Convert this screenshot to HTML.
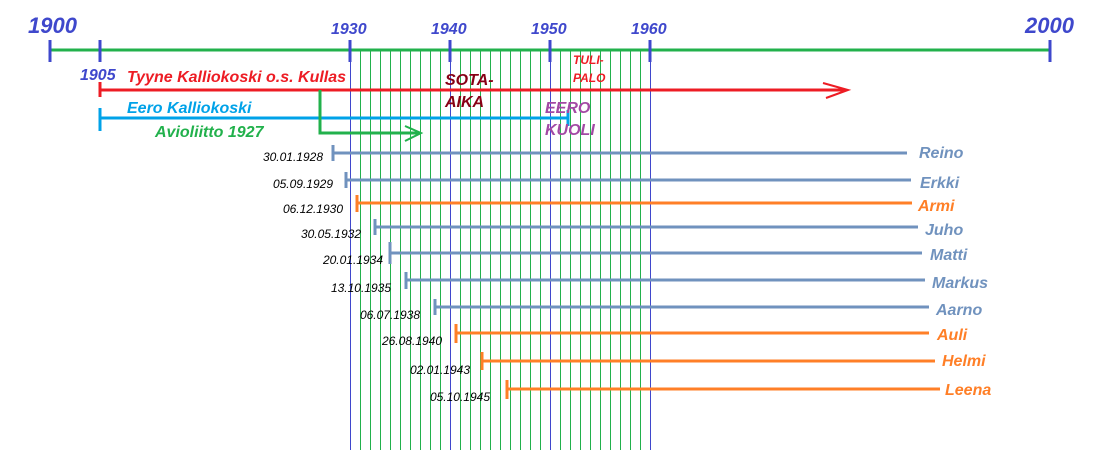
<!DOCTYPE html>
<html><head><meta charset="utf-8"><style>
body{margin:0;background:#fff;}
svg text{font-family:"Liberation Sans",sans-serif;font-style:italic;font-weight:bold;}
svg text.d{font-weight:normal;}
</style></head><body>
<svg width="1100" height="450" xmlns="http://www.w3.org/2000/svg">
<g stroke="#22b14c" stroke-width="1" transform="translate(0.5,0)">
<line x1="360" y1="50" x2="360" y2="450"/><line x1="370" y1="50" x2="370" y2="450"/><line x1="380" y1="50" x2="380" y2="450"/><line x1="390" y1="50" x2="390" y2="450"/><line x1="400" y1="50" x2="400" y2="450"/><line x1="410" y1="50" x2="410" y2="450"/><line x1="420" y1="50" x2="420" y2="450"/><line x1="430" y1="50" x2="430" y2="450"/><line x1="440" y1="50" x2="440" y2="450"/>
<line x1="460" y1="50" x2="460" y2="450"/><line x1="470" y1="50" x2="470" y2="450"/><line x1="480" y1="50" x2="480" y2="450"/><line x1="490" y1="50" x2="490" y2="450"/><line x1="500" y1="50" x2="500" y2="450"/><line x1="510" y1="50" x2="510" y2="450"/><line x1="520" y1="50" x2="520" y2="450"/><line x1="530" y1="50" x2="530" y2="450"/><line x1="540" y1="50" x2="540" y2="450"/>
<line x1="560" y1="50" x2="560" y2="450"/><line x1="570" y1="50" x2="570" y2="450"/><line x1="580" y1="50" x2="580" y2="450"/><line x1="590" y1="50" x2="590" y2="450"/><line x1="600" y1="50" x2="600" y2="450"/><line x1="610" y1="50" x2="610" y2="450"/><line x1="620" y1="50" x2="620" y2="450"/><line x1="630" y1="50" x2="630" y2="450"/><line x1="640" y1="50" x2="640" y2="450"/>
</g>
<g stroke="#3f48cc" stroke-width="1" transform="translate(0.5,0)">
<line x1="350" y1="40" x2="350" y2="450"/><line x1="450" y1="40" x2="450" y2="450"/><line x1="550" y1="40" x2="550" y2="450"/><line x1="650" y1="40" x2="650" y2="450"/>
</g>
<line x1="50" y1="50" x2="1050" y2="50" stroke="#22b14c" stroke-width="3"/>
<g stroke="#3f48cc" stroke-width="3">
<line x1="50" y1="40" x2="50" y2="62"/><line x1="100" y1="40" x2="100" y2="62"/><line x1="350" y1="40" x2="350" y2="62"/><line x1="450" y1="40" x2="450" y2="62"/><line x1="550" y1="40" x2="550" y2="62"/><line x1="650" y1="40" x2="650" y2="62"/><line x1="1050" y1="40" x2="1050" y2="62"/>
</g>
<g fill="#3f48cc">
<text x="28" y="33" font-size="22">1900</text>
<text x="1025" y="33" font-size="22">2000</text>
<text x="331" y="34" font-size="16">1930</text>
<text x="431" y="34" font-size="16">1940</text>
<text x="531" y="34" font-size="16">1950</text>
<text x="631" y="34" font-size="16">1960</text>
<text x="80" y="80" font-size="16">1905</text>
</g>
<line x1="100" y1="82" x2="100" y2="97" stroke="#ed1c24" stroke-width="3"/>
<line x1="100" y1="90" x2="845" y2="90" stroke="#ed1c24" stroke-width="3"/>
<polyline points="823,83 848,90 826,98" fill="none" stroke="#ed1c24" stroke-width="2"/>
<text x="127" y="82" font-size="16" fill="#ed1c24">Tyyne Kalliokoski o.s. Kullas</text>
<line x1="100" y1="108" x2="100" y2="131" stroke="#00a2e8" stroke-width="3"/>
<line x1="100" y1="118" x2="568" y2="118" stroke="#00a2e8" stroke-width="3"/>
<line x1="568" y1="110" x2="568" y2="126" stroke="#00a2e8" stroke-width="3"/>
<text x="127" y="113" font-size="16" fill="#00a2e8">Eero Kalliokoski</text>
<polyline points="320,90 320,133 420,133" fill="none" stroke="#22b14c" stroke-width="3"/>
<polyline points="405,126 421,133 405,141" fill="none" stroke="#22b14c" stroke-width="2"/>
<text x="155" y="137" font-size="16" fill="#22b14c">Avioliitto 1927</text>
<text x="445" y="85" font-size="16" fill="#880015">SOTA-</text>
<text x="445" y="107" font-size="16" fill="#880015">AIKA</text>
<text x="573" y="64" font-size="12" fill="#ed1c24">TULI-</text>
<text x="573" y="82" font-size="12" fill="#ed1c24">PALO</text>
<text x="545" y="113" font-size="16" fill="#a349a4">EERO</text>
<text x="545" y="135" font-size="16" fill="#a349a4">KUOLI</text>
<g stroke-width="3">
<g stroke="#7092be"><line x1="333" y1="145" x2="333" y2="161"/><line x1="333" y1="153" x2="907" y2="153"/></g>
<g stroke="#7092be"><line x1="346" y1="172" x2="346" y2="188"/><line x1="346" y1="180" x2="911" y2="180"/></g>
<g stroke="#ff7f27"><line x1="357" y1="195" x2="357" y2="212"/><line x1="357" y1="203" x2="912" y2="203"/></g>
<g stroke="#7092be"><line x1="375" y1="219" x2="375" y2="235"/><line x1="375" y1="227" x2="918" y2="227"/></g>
<g stroke="#7092be"><line x1="390" y1="242" x2="390" y2="264"/><line x1="390" y1="253" x2="922" y2="253"/></g>
<g stroke="#7092be"><line x1="406" y1="272" x2="406" y2="289"/><line x1="406" y1="280" x2="925" y2="280"/></g>
<g stroke="#7092be"><line x1="435" y1="299" x2="435" y2="315"/><line x1="435" y1="307" x2="929" y2="307"/></g>
<g stroke="#ff7f27"><line x1="456" y1="324" x2="456" y2="343"/><line x1="456" y1="333" x2="929" y2="333"/></g>
<g stroke="#ff7f27"><line x1="482" y1="352" x2="482" y2="370"/><line x1="482" y1="361" x2="935" y2="361"/></g>
<g stroke="#ff7f27"><line x1="507" y1="380" x2="507" y2="399"/><line x1="507" y1="389" x2="940" y2="389"/></g>
</g>
<g font-size="16">
<text x="919" y="158" fill="#7092be">Reino</text>
<text x="920" y="188" fill="#7092be">Erkki</text>
<text x="918" y="211" fill="#ff7f27">Armi</text>
<text x="925" y="235" fill="#7092be">Juho</text>
<text x="930" y="260" fill="#7092be">Matti</text>
<text x="932" y="288" fill="#7092be">Markus</text>
<text x="936" y="315" fill="#7092be">Aarno</text>
<text x="937" y="340" fill="#ff7f27">Auli</text>
<text x="942" y="366" fill="#ff7f27">Helmi</text>
<text x="945" y="395" fill="#ff7f27">Leena</text>
</g>
<g font-size="12" fill="#000" text-anchor="end">
<text class="d" x="323" y="161">30.01.1928</text>
<text class="d" x="333" y="188">05.09.1929</text>
<text class="d" x="343" y="213">06.12.1930</text>
<text class="d" x="361" y="238">30.05.1932</text>
<text class="d" x="383" y="264">20.01.1934</text>
<text class="d" x="391" y="292">13.10.1935</text>
<text class="d" x="420" y="319">06.07.1938</text>
<text class="d" x="442" y="345">26.08.1940</text>
<text class="d" x="470" y="374">02.01.1943</text>
<text class="d" x="490" y="401">05.10.1945</text>
</g>
</svg>
</body></html>
